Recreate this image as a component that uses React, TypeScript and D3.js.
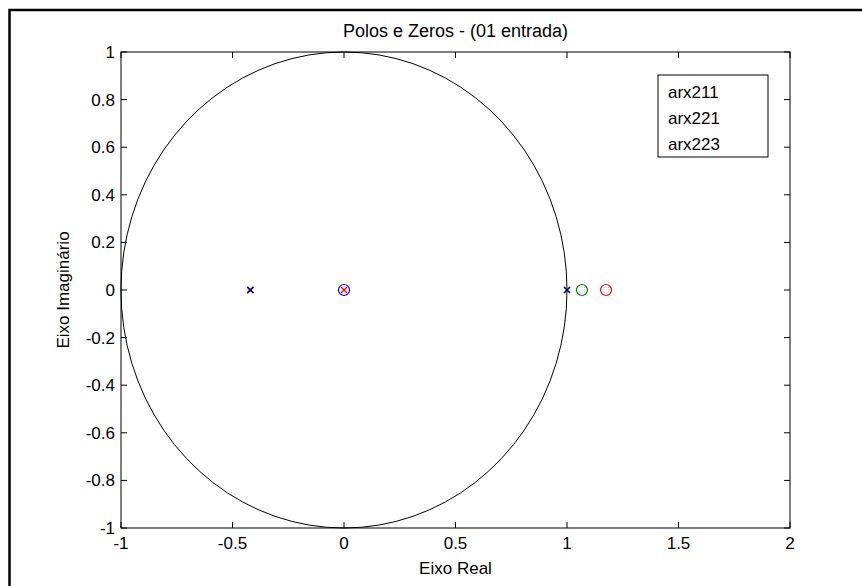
import React from "react";
import * as d3 from "d3";

const xTicks = [-1, -0.5, 0, 0.5, 1, 1.5, 2];
const yTicks = [-1, -0.8, -0.6, -0.4, -0.2, 0, 0.2, 0.4, 0.6, 0.8, 1];
const seriesNames = ["arx211", "arx221", "arx223"];
const seriesColors = ["#0000ff", "#008000", "#ff0000"];
// poles (x markers): [series index, real, imag]
const poleSeries = [1, 2, 0, 2, 1, 0];
const poleReal = [-0.42, -0.42, -0.42, 0.0, 1.0, 1.0];
const poleImag = [0, 0, 0, 0, 0, 0];
// zeros (o markers)
const zeroSeries = [0, 1, 2];
const zeroReal = [0.0, 1.067, 1.175];
const zeroImag = [0, 0, 0];
const circleSteps = d3.range(0, 81);

const W = 862, H = 586;
const L = 121, R = 790, T = 52, B = 528;
const FONT = "'Liberation Sans', Arial, sans-serif";
const FS = 17;

export default function App() {
  const x = d3.scaleLinear().domain([-1, 2]).range([L, R]);
  const y = d3.scaleLinear().domain([-1, 1]).range([B, T]);
  const circ = d3
    .line<number>()
    .x((i) => x(Math.cos((2 * Math.PI * i) / 80)))
    .y((i) => y(Math.sin((2 * Math.PI * i) / 80)));
  const tl = 6;
  return (
    <svg
      width={W}
      height={H}
      style={{ position: "absolute", left: 0, top: 0, background: "#fff" }}
      fontFamily={FONT}
    >
      <rect x={0} y={0} width={W} height={H} fill="#fff" />
      <rect x={9.5} y={10} width={W + 20} height={H + 20} fill="none" stroke="#000" strokeWidth={2.5} />
      <rect x={L} y={T} width={R - L} height={B - T} fill="#fff" stroke="#000" strokeWidth={1} />
      {xTicks.map((t) => (
        <g key={"x" + t}>
          <line x1={x(t)} x2={x(t)} y1={B} y2={B - tl} stroke="#000" />
          <line x1={x(t)} x2={x(t)} y1={T} y2={T + tl} stroke="#000" />
          <text x={x(t)} y={549} textAnchor="middle" fontSize={FS}>
            {t}
          </text>
        </g>
      ))}
      {yTicks.map((t) => (
        <g key={"y" + t}>
          <line x1={L} x2={L + tl} y1={y(t)} y2={y(t)} stroke="#000" />
          <line x1={R} x2={R - tl} y1={y(t)} y2={y(t)} stroke="#000" />
          <text x={115} y={y(t) + 6} textAnchor="end" fontSize={FS}>
            {Math.abs(t) < 1e-9 ? "0" : String(+t.toFixed(1))}
          </text>
        </g>
      ))}
      <path d={circ(circleSteps) || ""} fill="none" stroke="#000" strokeWidth={1} />
      {zeroReal.map((r, i) => (
        <circle
          key={"z" + i}
          cx={x(r)}
          cy={y(zeroImag[i])}
          r={5.5}
          fill="none"
          stroke={seriesColors[zeroSeries[i]]}
          strokeWidth={1.2}
        />
      ))}
      {poleReal.map((r, i) => {
        const cx = x(r), cy = y(poleImag[i]), s = 3;
        const c = seriesColors[poleSeries[i]];
        return (
          <g key={"p" + i} stroke={poleSeries[i] === 0 && r !== 0 ? "#00008b" : c} strokeWidth={1.3}>
            <line x1={cx - s} x2={cx + s} y1={cy - s} y2={cy + s} />
            <line x1={cx - s} x2={cx + s} y1={cy + s} y2={cy - s} />
          </g>
        );
      })}
      <rect x={658} y={75} width={110} height={82} fill="#fff" stroke="#000" strokeWidth={1} />
      {seriesNames.map((n, i) => (
        <text key={n} x={668} y={98 + i * 26} fontSize={FS}>
          {n}
        </text>
      ))}
      <text x={(L + R) / 2} y={37} textAnchor="middle" fontSize={18}>
        Polos e Zeros - (01 entrada)
      </text>
      <text x={(L + R) / 2} y={574} textAnchor="middle" fontSize={FS}>
        Eixo Real
      </text>
      <text transform={`translate(69,${(T + B) / 2}) rotate(-90)`} textAnchor="middle" fontSize={FS}>
        Eixo Imaginário
      </text>
    </svg>
  );
}
